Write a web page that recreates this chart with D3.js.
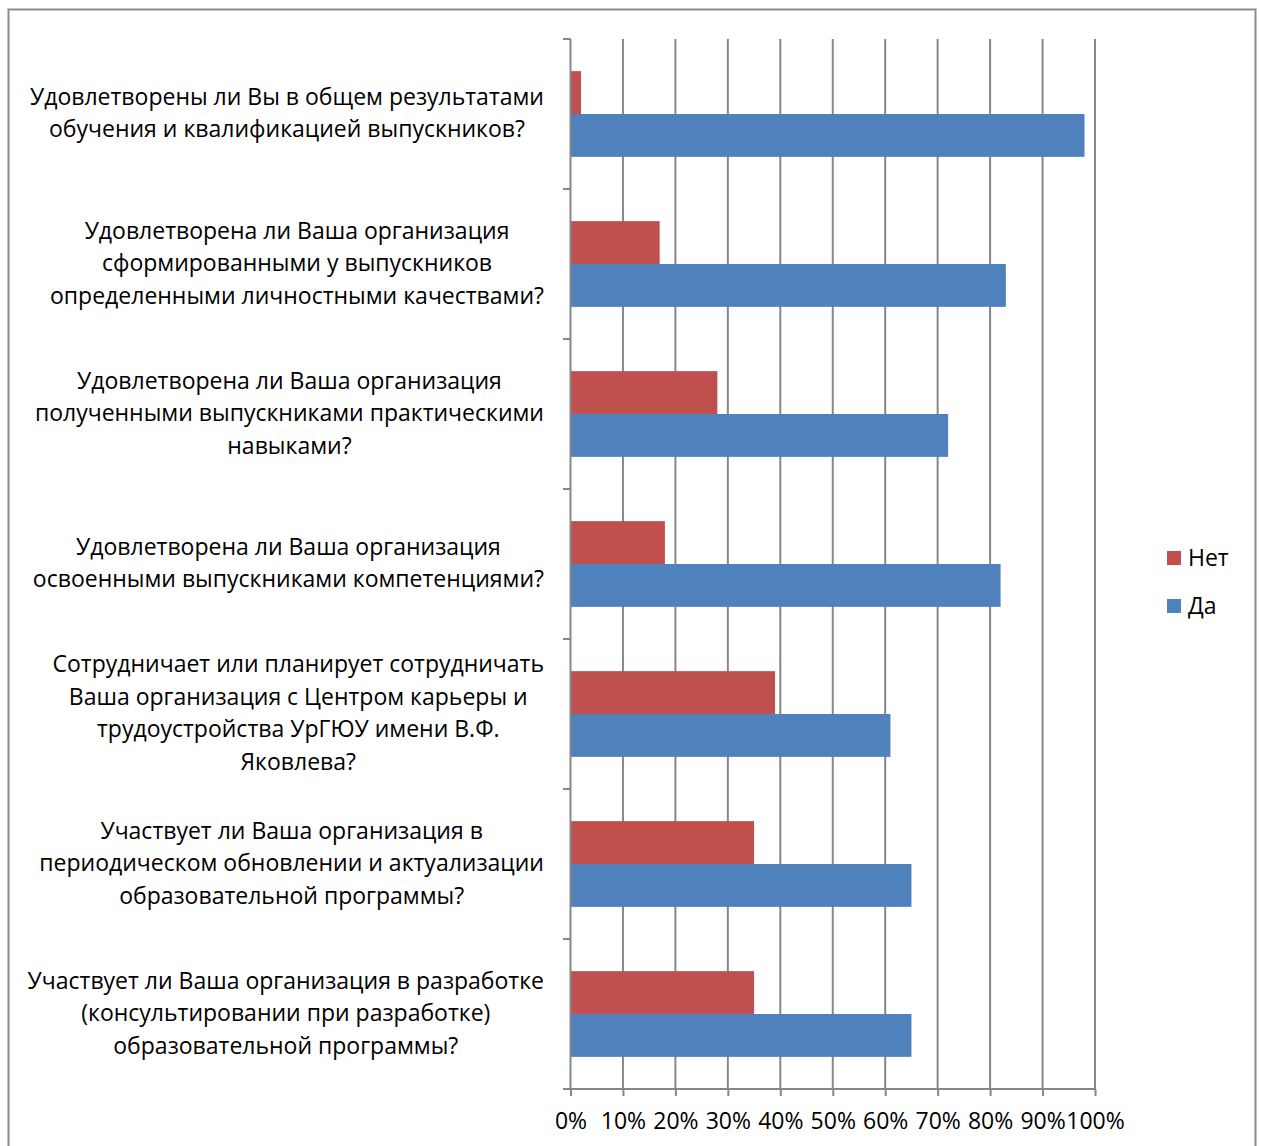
<!DOCTYPE html>
<html><head><meta charset="utf-8">
<script src="https://cdn.jsdelivr.net/npm/d3@7"></script>
<style>body{margin:0;background:#fff}svg{display:block}</style>
</head><body>
<script>
const categories = [
  ["Удовлетворены ли Вы в общем результатами", "обучения и квалификацией выпускников?"],
  ["Удовлетворена ли Ваша организация", "сформированными у выпускников", "определенными личностными качествами?"],
  ["Удовлетворена ли Ваша организация", "полученными выпускниками практическими", "навыками?"],
  ["Удовлетворена ли Ваша организация", "освоенными выпускниками компетенциями?"],
  ["Сотрудничает или планирует сотрудничать", "Ваша организация с Центром карьеры и", "трудоустройства УрГЮУ имени В.Ф.", "Яковлева?"],
  ["Участвует ли Ваша организация в", "периодическом обновлении и актуализации", "образовательной программы?"],
  ["Участвует ли Ваша организация в разработке", "(консультировании при разработке)", "образовательной программы?"]
];
const seriesNames = ["Нет", "Да"];
const net = [2, 17, 28, 18, 39, 35, 35];
const da  = [98, 83, 72, 82, 61, 65, 65];
const tickValues = [0,10,20,30,40,50,60,70,80,90,100];
const colors = ["#C0504D", "#4F81BD"];

const W = 1261, H = 1146;
const svg = d3.select("body").append("svg").attr("width", W).attr("height", H);
const font = "'Open Sans', sans-serif";
const fs = 23;

svg.append("rect").attr("x", 8.5).attr("y", 9.5).attr("width", 1247).attr("height", 1150)
  .attr("fill", "none").attr("stroke", "#8c8c8c").attr("stroke-width", 2);

const x = d3.scaleLinear().domain([0, 100]).range([570.5, 1095]);
const idx = d3.range(categories.length);
const y = d3.scaleBand().domain(idx).range([39, 1089]);
const inner = d3.scaleBand().domain([0,1]).range([0, y.bandwidth()]).paddingInner(0).paddingOuter(0.75);

// gridlines
svg.append("g").selectAll("line").data(tickValues.slice(1)).join("line")
  .attr("x1", d => x(d)).attr("x2", d => x(d)).attr("y1", 39).attr("y2", 1089)
  .attr("stroke", "#878787").attr("stroke-width", 2);

// bars
const series = [net, da];
series.forEach((vals, s) => {
  svg.append("g").selectAll("rect").data(vals).join("rect")
    .attr("x", x(0)).attr("y", (d, i) => y(i) + inner(s))
    .attr("width", d => x(d) - x(0)).attr("height", inner.bandwidth())
    .attr("fill", colors[s]);
});

// left axis
const ya = svg.append("g");
ya.append("line").attr("x1", x(0)).attr("x2", x(0)).attr("y1", 39).attr("y2", 1089)
  .attr("stroke", "#878787").attr("stroke-width", 2);
ya.selectAll("line.t").data(d3.range(categories.length + 1)).join("line").attr("class", "t")
  .attr("x1", 563).attr("x2", x(0)).attr("y1", d => 39 + d * y.step()).attr("y2", d => 39 + d * y.step())
  .attr("stroke", "#878787").attr("stroke-width", 2);

// bottom axis
const xa = svg.append("g").attr("transform", "translate(0,1089)")
  .call(d3.axisBottom(x).tickValues(tickValues).tickFormat(d => d + "%").tickSize(7).tickPadding(17));
xa.select(".domain").attr("stroke", "#878787").attr("stroke-width", 2).attr("d", `M563,0H${x(100)}`);
xa.selectAll(".tick line").attr("stroke", "#878787").attr("stroke-width", 2);
xa.selectAll(".tick text").attr("font-family", font).attr("font-size", fs).attr("fill", "#000");

// category labels
const R = 544, lh = 32.5;
idx.forEach(i => {
  const lines = categories[i];
  const g = svg.append("g");
  const texts = lines.map((ln, k) => g.append("text").text(ln)
    .attr("font-family", font).attr("font-size", fs).attr("fill", "#000")
    .attr("text-anchor", "middle").attr("dominant-baseline", "central")
    .attr("y", y(i) + y.bandwidth() / 2 - 2 + (k - (lines.length - 1) / 2) * lh));
  const maxW = d3.max(texts, t => t.node().getComputedTextLength());
  texts.forEach(t => t.attr("x", R - maxW / 2));
});

// legend
const leg = svg.append("g");
seriesNames.forEach((n, s) => {
  leg.append("rect").attr("x", 1167).attr("y", 551 + s * 48).attr("width", 14).attr("height", 14).attr("fill", colors[s]);
  leg.append("text").attr("x", 1188).attr("y", 557 + s * 48).attr("dominant-baseline", "central")
    .attr("font-family", font).attr("font-size", fs).attr("fill", "#000").text(n);
});
</script>
</body></html>
